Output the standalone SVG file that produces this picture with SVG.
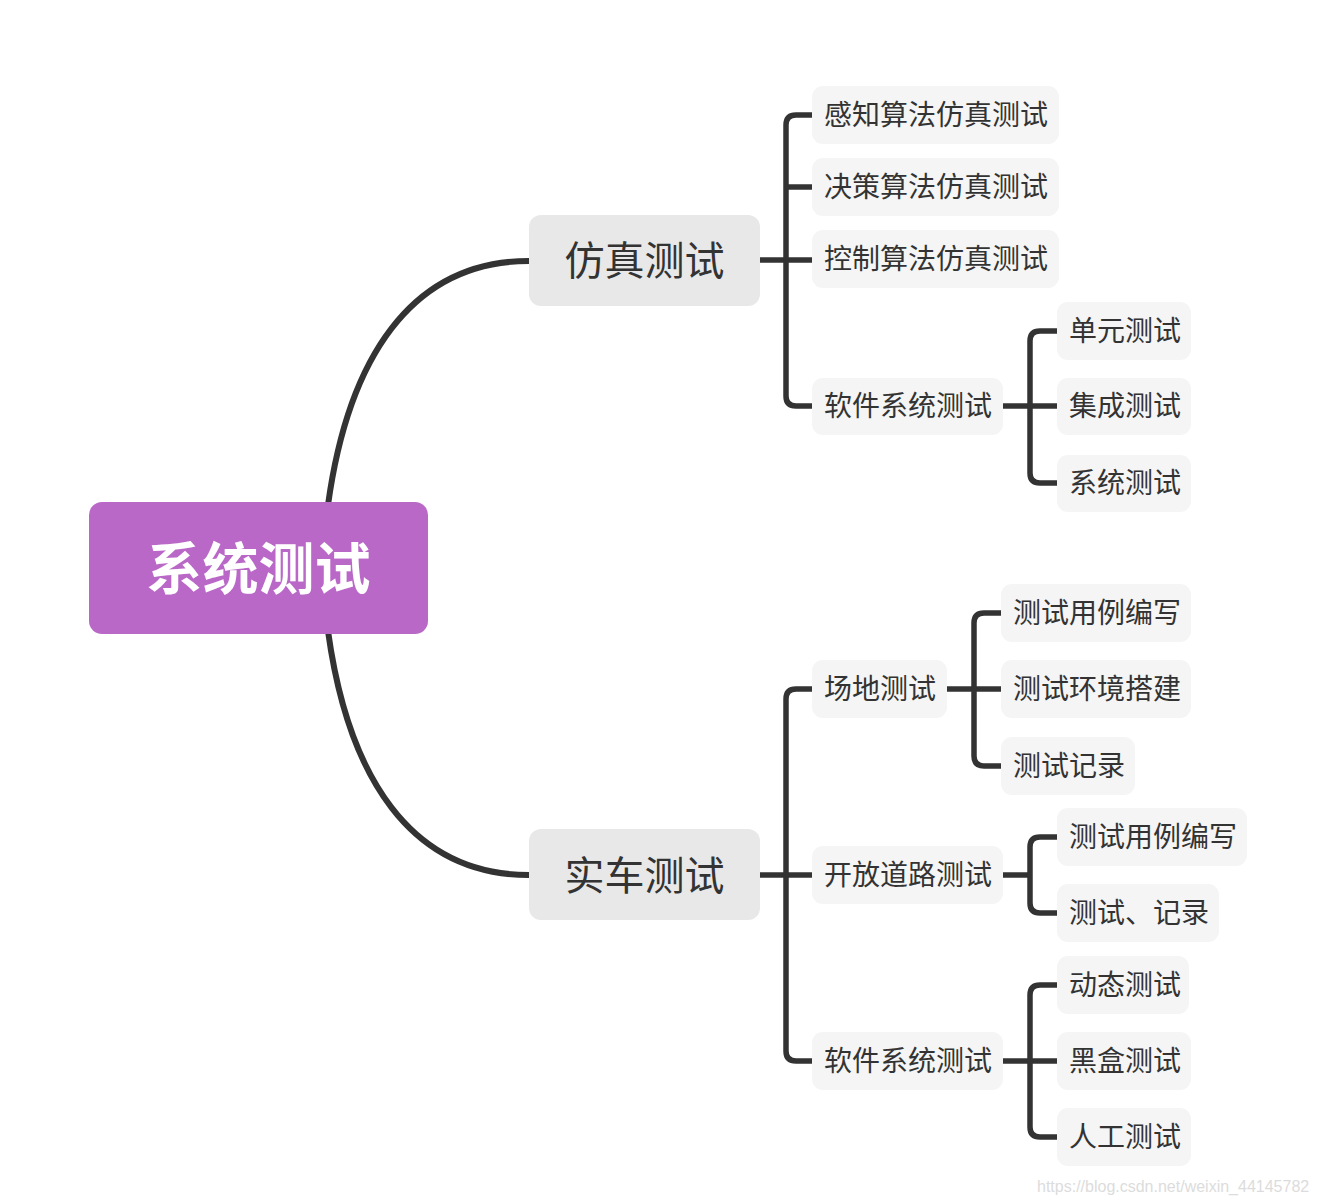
<svg xmlns="http://www.w3.org/2000/svg" width="1317" height="1203" viewBox="0 0 1317 1203">
<style>
text{font-family:"Noto Sans CJK SC","Microsoft YaHei",sans-serif;}
.root rect{fill:#BA68C8;}
.root text{fill:#fff;font-size:56px;font-weight:bold;text-anchor:middle;}
.l1 rect{fill:#E8E8E8;}
.l1 text{fill:#333;font-size:40px;text-anchor:middle;}
.l2 rect{fill:#F5F5F5;}
.l2 text{fill:#333;font-size:28px;}
.conn path{fill:none;stroke:#333;stroke-width:5.5;stroke-linecap:butt;}
.conn .thick{stroke-width:6;}
.wm{font-family:"Liberation Sans",Arial,sans-serif;font-size:16px;fill:#dcdcdc;}
</style>
<rect width="1317" height="1203" fill="#fff"/>
<g class="conn" id="connectors">
<path class="thick" d="M328,505 C348,360 410,261 529,261"/>
<path class="thick" d="M328,631 C348,776 410,875 529,875"/>
<path d="M760,260 H812"/>
<path d="M812,115 H796 Q786,115 786,125 V396 Q786,406 796,406 H812"/>
<path d="M786,187 H812"/>
<path d="M1003,406 H1057"/>
<path d="M1057,331 H1040 Q1030,331 1030,341 V473 Q1030,483 1040,483 H1057"/>
<path d="M760,875 H812"/>
<path d="M812,689 H796 Q786,689 786,699 V1051 Q786,1061 796,1061 H812"/>
<path d="M947,689 H1001"/>
<path d="M1001,613 H984 Q974,613 974,623 V756 Q974,766 984,766 H1001"/>
<path d="M1003,875 H1030"/>
<path d="M1057,837 H1040 Q1030,837 1030,847 V903 Q1030,913 1040,913 H1057"/>
<path d="M1003,1061 H1057"/>
<path d="M1057,985 H1040 Q1030,985 1030,995 V1127 Q1030,1137 1040,1137 H1057"/>
</g>
<g id="root" class="root"><rect x="89" y="502" width="339" height="132" rx="13"/><text x="258.5" y="589">系统测试</text></g>
<g id="sim" class="l1"><rect x="529" y="215" width="231" height="91" rx="12"/><text x="644.5" y="275">仿真测试</text></g>
<g id="real" class="l1"><rect x="529" y="829" width="231" height="91" rx="12"/><text x="644.5" y="890">实车测试</text></g>
<g id="n1" class="l2"><rect x="812" y="86" width="247" height="58" rx="11"/><text x="824" y="125">感知算法仿真测试</text></g>
<g id="n2" class="l2"><rect x="812" y="158" width="247" height="58" rx="11"/><text x="824" y="197">决策算法仿真测试</text></g>
<g id="n3" class="l2"><rect x="812" y="230" width="247" height="58" rx="11"/><text x="824" y="269">控制算法仿真测试</text></g>
<g id="n4" class="l2"><rect x="812" y="378" width="191" height="57" rx="11"/><text x="824" y="416">软件系统测试</text></g>
<g id="n5" class="l2"><rect x="1057" y="302" width="134" height="58" rx="11"/><text x="1069" y="341">单元测试</text></g>
<g id="n6" class="l2"><rect x="1057" y="378" width="134" height="57" rx="11"/><text x="1069" y="416">集成测试</text></g>
<g id="n7" class="l2"><rect x="1057" y="455" width="134" height="57" rx="11"/><text x="1069" y="493">系统测试</text></g>
<g id="n8" class="l2"><rect x="812" y="660" width="135" height="58" rx="11"/><text x="824" y="699">场地测试</text></g>
<g id="n9" class="l2"><rect x="1001" y="584" width="190" height="58" rx="11"/><text x="1013" y="623">测试用例编写</text></g>
<g id="n10" class="l2"><rect x="1001" y="660" width="190" height="58" rx="11"/><text x="1013" y="699">测试环境搭建</text></g>
<g id="n11" class="l2"><rect x="1001" y="737" width="134" height="58" rx="11"/><text x="1013" y="776">测试记录</text></g>
<g id="n12" class="l2"><rect x="812" y="846" width="191" height="58" rx="11"/><text x="824" y="885">开放道路测试</text></g>
<g id="n13" class="l2"><rect x="1057" y="808" width="190" height="58" rx="11"/><text x="1069" y="847">测试用例编写</text></g>
<g id="n14" class="l2"><rect x="1057" y="884" width="162" height="58" rx="11"/><text x="1069" y="923">测试、记录</text></g>
<g id="n15" class="l2"><rect x="812" y="1032" width="191" height="58" rx="11"/><text x="824" y="1071">软件系统测试</text></g>
<g id="n16" class="l2"><rect x="1057" y="956" width="132" height="58" rx="11"/><text x="1069" y="995">动态测试</text></g>
<g id="n17" class="l2"><rect x="1057" y="1032" width="134" height="58" rx="11"/><text x="1069" y="1071">黑盒测试</text></g>
<g id="n18" class="l2"><rect x="1057" y="1108" width="134" height="58" rx="11"/><text x="1069" y="1147">人工测试</text></g>
<text class="wm" x="1037" y="1192">https://blog.csdn.net/weixin_44145782</text>
</svg>
